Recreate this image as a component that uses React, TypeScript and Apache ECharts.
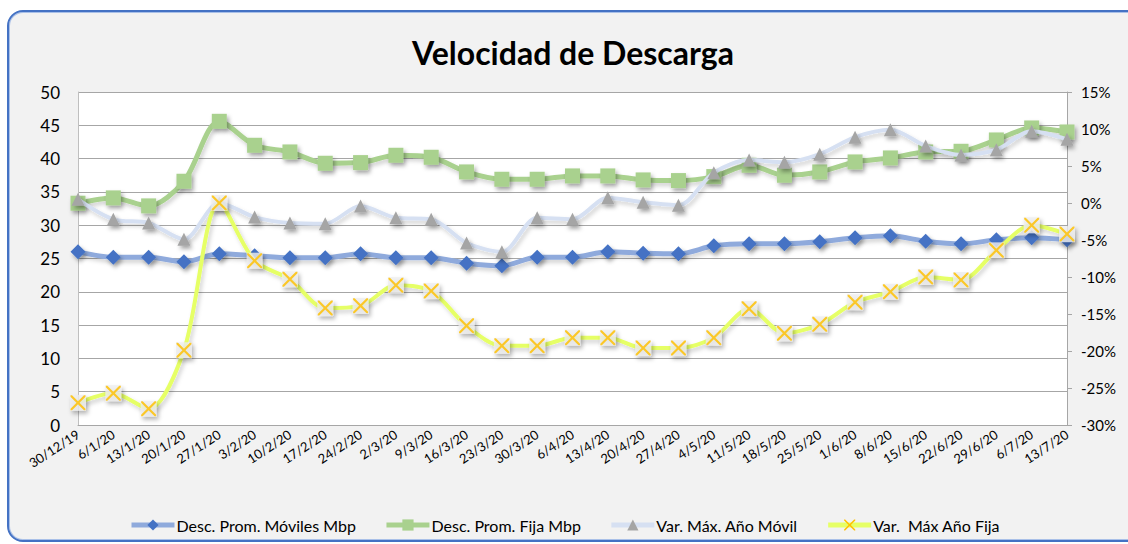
import React, { useEffect, useRef } from "react";
import * as echarts from "echarts";

const categories = ["30/12/19","6/1/20","13/1/20","20/1/20","27/1/20","3/2/20","10/2/20","17/2/20","24/2/20","2/3/20","9/3/20","16/3/20","23/3/20","30/3/20","6/4/20","13/4/20","20/4/20","27/4/20","4/5/20","11/5/20","18/5/20","25/5/20","1/6/20","8/6/20","15/6/20","22/6/20","29/6/20","6/7/20","13/7/20"];
const descMovil = [26.0,25.2,25.2,24.5,25.7,25.4,25.1,25.1,25.7,25.1,25.1,24.3,23.9,25.2,25.2,26.0,25.8,25.7,26.9,27.2,27.2,27.5,28.1,28.4,27.6,27.2,27.8,28.1,27.8];
const descFija = [33.3,34.1,32.9,36.6,45.6,42.0,41.0,39.3,39.4,40.5,40.2,38.0,36.9,36.9,37.4,37.4,36.8,36.7,37.3,39.0,37.5,38.0,39.5,40.1,41.0,41.1,42.8,44.6,44.0];
const varMovil = [0.5,-2.2,-2.7,-4.9,0.0,-1.9,-2.7,-2.8,-0.4,-2.0,-2.2,-5.4,-6.6,-2.0,-2.2,0.7,0.1,-0.3,4.1,5.8,5.5,6.6,8.9,9.9,7.7,6.5,7.2,9.7,8.6];
const varFija = [-27.0,-25.7,-27.8,-19.9,0.0,-7.8,-10.3,-14.2,-13.9,-11.1,-11.9,-16.6,-19.3,-19.3,-18.2,-18.2,-19.6,-19.6,-18.2,-14.3,-17.6,-16.4,-13.4,-12.0,-10.0,-10.4,-6.4,-3.0,-4.2];
const leftTicks = { min: 0, max: 50, interval: 5 };
const rightTicks = { min: -30, max: 15, interval: 5 };
const seriesNames = ["Desc. Prom. Móviles Mbp", "Desc. Prom. Fija Mbp", "Var. Máx. Año Móvil", "Var.  Máx Año Fija"];
const TITLE = "Velocidad de Descarga";

const FONT = "Lato, 'Open Sans', sans-serif";
const X_PATH = "path://M0,0 L1,0 L5,4 L9,0 L10,0 L10,1 L6,5 L10,9 L10,10 L9,10 L5,6 L1,10 L0,10 L0,9 L4,5 L0,1 Z";
const shadow = { shadowBlur: 4, shadowColor: "rgba(0,0,0,0.35)", shadowOffsetX: 2, shadowOffsetY: 3 };
const lineShadow = { shadowBlur: 4, shadowColor: "rgba(0,0,0,0.18)", shadowOffsetX: 2, shadowOffsetY: 3 };

export default function App() {
  const ref = useRef<HTMLDivElement>(null);
  useEffect(() => {
    if (!ref.current) return;
    const chart = echarts.init(ref.current, null, { renderer: "svg" });
    chart.setOption({
      animation: false,
      backgroundColor: "transparent",
      textStyle: { fontFamily: FONT },
      graphic: [
        {
          type: "text",
          x: 573,
          y: 52,
          style: {
            text: TITLE,
            fontSize: 32,
            fontWeight: "bold",
            fontFamily: FONT,
            fill: "#000",
            textAlign: "center",
            textVerticalAlign: "middle",
          },
        },
      ],
      grid: { left: 78, right: 61, top: 92, bottom: 119, show: true, backgroundColor: "#fff", borderWidth: 0 },
      legend: {
        data: seriesNames,
        left: 124,
        top: 512,
        itemWidth: 43,
        itemHeight: 14,
        itemGap: 28,
        lineStyle: { width: 5 },
        textStyle: { fontSize: 16, color: "#000", fontFamily: FONT, padding: [0, 0, 0, -3] },
      },
      xAxis: {
        type: "category",
        data: categories,
        boundaryGap: false,
        axisLine: { show: true, lineStyle: { color: "#A6A6A6" } },
        axisTick: { show: false },
        axisLabel: { rotate: 33, interval: 0, fontSize: 13, color: "#000", margin: 8, fontFamily: FONT },
      },
      yAxis: [
        {
          type: "value",
          ...leftTicks,
          axisLine: { show: true, lineStyle: { color: "#BFBFBF" } },
          axisTick: { show: false },
          splitLine: { show: true, lineStyle: { color: "#A6A6A6", width: 1 } },
          axisLabel: { fontSize: 17, color: "#000", margin: 18, fontFamily: FONT },
        },
        {
          type: "value",
          position: "right",
          ...rightTicks,
          axisLine: { show: true, lineStyle: { color: "#A6A6A6" } },
          axisTick: { show: true, length: 5, lineStyle: { color: "#A6A6A6" } },
          splitLine: { show: false },
          axisLabel: { formatter: "{value}%", fontSize: 15, color: "#000", margin: 14, fontFamily: FONT },
        },
      ],
      series: [
        {
          name: seriesNames[0],
          type: "line",
          data: descMovil,
          smooth: 0.3,
          symbol: "diamond",
          symbolSize: 15,
          z: 3,
          lineStyle: { color: "#8FAADC", width: 5, ...lineShadow },
          itemStyle: { color: "#4472C4", ...shadow },
        },
        {
          name: seriesNames[1],
          type: "line",
          data: descFija,
          smooth: 0.3,
          symbol: "rect",
          symbolSize: 15,
          z: 4,
          lineStyle: { color: "#A9D18E", width: 5, ...lineShadow },
          itemStyle: { color: "#A9D18E", ...shadow },
        },
        {
          name: seriesNames[2],
          type: "line",
          data: varMovil,
          yAxisIndex: 1,
          smooth: 0.3,
          symbol: "triangle",
          symbolSize: 13,
          z: 5,
          lineStyle: { color: "#D6E0F2", width: 4, ...lineShadow },
          itemStyle: { color: "#A5A5A5", ...shadow },
        },
        {
          name: seriesNames[3],
          type: "line",
          data: varFija,
          yAxisIndex: 1,
          smooth: 0.3,
          symbol: X_PATH,
          symbolSize: 14,
          z: 6,
          lineStyle: { color: "#E6FF66", width: 4, ...lineShadow },
          itemStyle: { color: "#FFC000" },
        },
        {
          type: "scatter",
          data: varFija,
          yAxisIndex: 1,
          symbol: "rect",
          symbolSize: 16,
          silent: true,
          z: 7,
          itemStyle: { color: "#EEEEEE", ...shadow },
        },
        {
          type: "scatter",
          data: varFija,
          yAxisIndex: 1,
          symbol: X_PATH,
          symbolSize: 15,
          silent: true,
          z: 8,
          itemStyle: { color: "#FFC000" },
        },
      ],
    });
    return () => chart.dispose();
  }, []);

  return (
    <div style={{ position: "fixed", left: 0, top: 0, width: 1128, height: 544, background: "#fff", overflow: "hidden" }}>
      <div
        style={{
          position: "absolute",
          left: 7,
          top: 10,
          width: 1135,
          height: 528,
          border: "2px solid #4472C4",
          borderRadius: 16,
          background: "#F2F2F2",
          boxShadow: "inset 0 0 0 1px #A9C0E8",
        }}
      />
      <div ref={ref} style={{ position: "absolute", left: 0, top: 0, width: 1128, height: 544 }} />
    </div>
  );
}
